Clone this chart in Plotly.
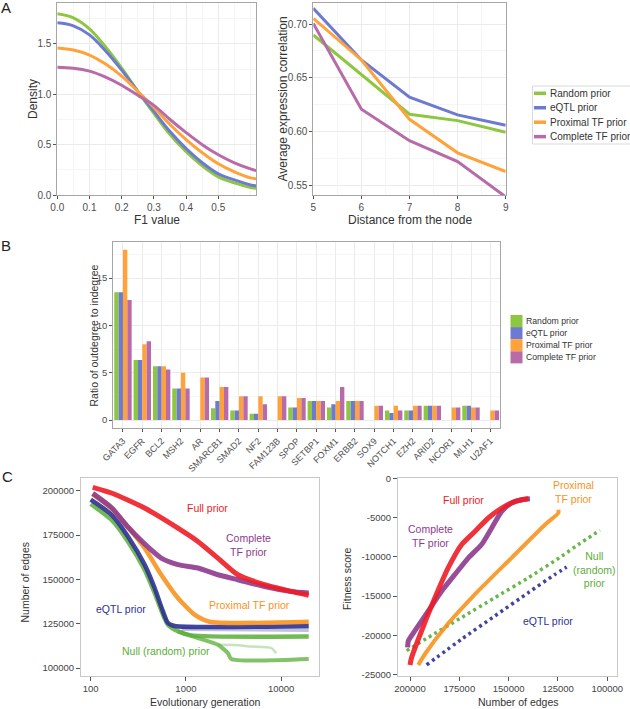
import plotly.graph_objects as go

W, H = 630, 709


def px(x):
    return x / W


def py(y):
    return 1 - y / H


FONT = "Arial, Liberation Sans, sans-serif"
TICKC = "#4d4d4d"

# ---------------- data ----------------
series_names = ["Random prior", "eQTL prior", "Proximal TF prior", "Complete TF prior"]
series_colors = ["#8DC63F", "#6C7BD1", "#FFA23A", "#B76BA8"]

# Panel A (left): density of F1 values
f1_values = [0.00, 0.05, 0.10, 0.15, 0.20, 0.25, 0.30, 0.35, 0.40, 0.45, 0.50, 0.55, 0.60, 0.62]
density_random = [1.80, 1.76, 1.65, 1.47, 1.26, 1.03, 0.81, 0.60, 0.43, 0.29, 0.18, 0.12, 0.075, 0.065]
density_eqtl = [1.71, 1.68, 1.59, 1.43, 1.24, 1.03, 0.83, 0.63, 0.46, 0.32, 0.21, 0.15, 0.10, 0.09]
density_proximal = [1.46, 1.44, 1.39, 1.30, 1.18, 1.03, 0.87, 0.70, 0.55, 0.42, 0.31, 0.23, 0.17, 0.16]
density_complete = [1.27, 1.26, 1.23, 1.17, 1.09, 0.99, 0.89, 0.75, 0.62, 0.50, 0.40, 0.32, 0.26, 0.24]

# Panel A (right): average expression correlation vs distance
distance = [5, 6, 7, 8, 9]
corr_random = [0.6898, 0.6525, 0.6159, 0.6100, 0.5992]
corr_eqtl = [0.7146, 0.6665, 0.6318, 0.6153, 0.6057]
corr_proximal = [0.7053, 0.6665, 0.6112, 0.5800, 0.5625]
corr_complete = [0.7006, 0.6206, 0.5913, 0.5718, 0.5390]

# Panel B: ratio of outdegree to indegree
genes = ["GATA3", "EGFR", "BCL2", "MSH2", "AR", "SMARCB1", "SMAD2", "NF2", "FAM123B", "SPOP",
         "SETBP1", "FOXM1", "ERBB2", "SOX9", "NOTCH1", "EZH2", "ARID2", "NCOR1", "MLH1", "U2AF1"]
ratio_random = [13.5, 6.33, 5.67, 3.33, 0, 1.25, 1, 0.67, 0, 1.33, 2, 1.33, 2, 0, 1, 1, 1.5, 0, 1.5, 0]
ratio_eqtl = [13.5, 6.33, 5.67, 3.33, 0, 2, 1, 0.67, 0, 1.33, 2, 1.67, 2, 0, 0.75, 1, 1.5, 0, 1.5, 0]
ratio_proximal = [18, 8, 5.67, 5, 4.5, 3.5, 2.5, 2.5, 2.5, 2.33, 2, 2, 2, 1.5, 1.5, 1.5, 1.5, 1.33, 1.33, 1]
ratio_complete = [12.67, 8.33, 5.33, 3.33, 4.5, 3.5, 2.5, 1.67, 2.5, 2.33, 2, 3.5, 2, 1.5, 1, 1.5, 1.5, 1.33, 1.33, 1]

# Panel C colours / names
c_names = ["Full prior", "Complete TF prior", "Proximal TF prior", "eQTL prior", "Null (random) prior"]
c_colors = ["#EE1C25", "#8E3A8E", "#F7931E", "#2E3192", "#5BAE38"]

# Panel C (left): number of edges vs evolutionary generation
gen_full = [105, 165, 368, 824, 1336, 2167, 3510, 6680, 12740, 19500]
edges_full = [201900, 198700, 190200, 178900, 171400, 162000, 152600, 147000, 143200, 141000]
gen_complete = [105, 165, 246, 368, 551, 824, 1336, 2167, 3510, 6680, 12740, 19500]
edges_complete = [198500, 190500, 179500, 170000, 162000, 158300, 156400, 152600, 149800, 146000, 143200, 142300]
gen_proximal = [105, 165, 246, 368, 551, 824, 1232, 1771, 19500]
edges_proximal = [198000, 190000, 179500, 167700, 152600, 139500, 130100, 126100, 126100]
gen_eqtl = [100, 165, 246, 368, 469, 574, 648, 760, 19500]
edges_eqtl = [194900, 186500, 174200, 158300, 145100, 131900, 125400, 123700, 123700]
gen_eqtl_alt = [900, 19500]
edges_eqtl_alt = [122000, 121400]
gen_null = [100, 165, 246, 368, 469, 574, 648, 824, 1137, 19500]
edges_null = [192500, 183600, 171400, 155400, 142300, 130100, 124400, 120700, 118400, 117700]
gen_null_low = [824, 1336, 2167, 2762, 2992, 19500]
edges_null_low = [120700, 116900, 113100, 108400, 105100, 105100]
gen_null_faint = [2167, 3240, 4840, 7850, 8870]
edges_null_faint = [113100, 113000, 112100, 111300, 108400]

# Panel C (right): fitness score vs number of edges
fit_edges_full = [200000, 199150, 194100, 187300, 180600, 173800, 167000, 160300, 153500, 146800, 140000]
fit_full = [-23760, -22790, -19410, -15190, -11390, -8440, -6750, -5060, -3800, -2950, -2620]
fit_edges_complete = [201200, 200800, 197500, 190700, 183900, 177200, 170400, 163700, 158600, 153500, 148500, 143400, 139200]
fit_complete = [-21520, -20680, -19410, -16880, -14350, -12240, -10130, -8440, -6330, -4220, -3170, -2740, -2620]
fit_edges_proximal = [195800, 192400, 182300, 165400, 148500, 131600, 124800, 124800]
fit_proximal = [-23760, -22370, -18990, -14350, -10130, -5910, -4430, -4010]
fit_edges_null = [201700, 190700, 173800, 156900, 140000, 123100, 114700, 103700]
fit_null = [-21940, -20260, -17720, -15190, -12660, -9920, -8440, -6630]
fit_edges_eqtl = [191600, 173800, 156900, 140000, 126500, 120600]
fit_eqtl = [-23760, -20470, -17510, -14560, -12240, -11310]

# tick labels
c_gen_ticks = [100, 1000, 10000]
c_gen_ticktext = ["100", "1000", "10000"]
c_edge_ticks = [100000, 125000, 150000, 175000, 200000]
c_edge_ticktext = ["100000", "125000", "150000", "175000", "200000"]
c_fit_ticks = [0, -5000, -10000, -15000, -20000, -25000]
c_fit_ticktext = ["0", "-5000", "-10000", "-15000", "-20000", "-25000"]

# ---------------- figure ----------------
fig = go.Figure()

dens = [density_random, density_eqtl, density_proximal, density_complete]
corr = [corr_random, corr_eqtl, corr_proximal, corr_complete]
ratios = [ratio_random, ratio_eqtl, ratio_proximal, ratio_complete]

for name, col, d in zip(series_names, series_colors, dens):
    fig.add_trace(go.Scatter(x=f1_values, y=d, mode="lines", name=name, showlegend=False,
                             line=dict(color=col, width=3, shape="spline", smoothing=1.0),
                             xaxis="x", yaxis="y"))
for name, col, c in zip(series_names, series_colors, corr):
    fig.add_trace(go.Scatter(x=distance, y=c, mode="lines", name=name, showlegend=False,
                             line=dict(color=col, width=3), xaxis="x2", yaxis="y2"))
for name, col, r in zip(series_names, series_colors, ratios):
    fig.add_trace(go.Bar(x=genes, y=r, name=name, showlegend=False, marker=dict(color=col, line=dict(width=0)),
                         xaxis="x3", yaxis="y3"))

# Panel C left
c_left = [
    (gen_null_faint, edges_null_faint, c_colors[4], 2.5, 0.35),
    (gen_eqtl_alt, edges_eqtl_alt, c_colors[3], 4, 0.3),
    (gen_null_low, edges_null_low, c_colors[4], 4, 0.75),
    (gen_null, edges_null, c_colors[4], 4.5, 0.85),
    (gen_eqtl, edges_eqtl, c_colors[3], 4.5, 0.9),
    (gen_proximal, edges_proximal, c_colors[2], 4.5, 0.9),
    (gen_complete, edges_complete, c_colors[1], 5, 0.9),
    (gen_full, edges_full, c_colors[0], 5, 0.9),
]
for gx, gy, col, w, op in c_left:
    fig.add_trace(go.Scatter(x=gx, y=gy, mode="lines", showlegend=False, opacity=op,
                             line=dict(color=col, width=w, shape="spline", smoothing=0.6),
                             xaxis="x4", yaxis="y4"))

# Panel C right
c_right = [
    (fit_edges_eqtl, fit_eqtl, c_colors[3], 3.5, "3px,3.5px"),
    (fit_edges_null, fit_null, c_colors[4], 3.5, "3px,3.5px"),
    (fit_edges_proximal, fit_proximal, c_colors[2], 4, "solid"),
    (fit_edges_complete, fit_complete, c_colors[1], 5, "solid"),
    (fit_edges_full, fit_full, c_colors[0], 5, "solid"),
]
for gx, gy, col, w, dash in c_right:
    fig.add_trace(go.Scatter(x=gx, y=gy, mode="lines", showlegend=False, opacity=0.9,
                             line=dict(color=col, width=w, shape="spline", smoothing=0.6, dash=dash),
                             xaxis="x5", yaxis="y5"))

# ---------------- axes ----------------
GRID = "#ebebeb"
MINOR = "#f5f5f5"
BORDER = "#a6a6a6"


def ax_common(**kw):
    d = dict(showline=True, mirror=True, linecolor=BORDER, linewidth=1, automargin=False,
             ticks="outside", ticklen=3, tickcolor="#555", tickwidth=1,
             tickfont=dict(size=10, color=TICKC, family=FONT), zeroline=False,
             showgrid=True, gridcolor=GRID, gridwidth=1, fixedrange=True)
    d.update(kw)
    return d


A_Y = [py(195), py(3.3)]
CF = dict(size=9.5, color="#444", family=FONT)
layout_axes = dict(
    xaxis=ax_common(domain=[px(57.3), px(256)], range=[0, 0.617], tickvals=[0, 0.1, 0.2, 0.3, 0.4, 0.5],
                    tickformat=".1f", anchor="y",
                    minor=dict(dtick=0.05, tick0=0, showgrid=True, gridcolor=MINOR, ticks="")),
    yaxis=ax_common(domain=A_Y, range=[0, 1.904], tickvals=[0, 0.5, 1.0, 1.5], tickformat=".1f",
                    anchor="x",
                    minor=dict(dtick=0.25, tick0=0, showgrid=True, gridcolor=MINOR, ticks="")),
    xaxis2=ax_common(domain=[px(313.3), px(505.7)], range=[5, 9], dtick=1, anchor="y2",
                     minor=dict(dtick=0.5, tick0=5, showgrid=True, gridcolor=MINOR, ticks="")),
    yaxis2=ax_common(domain=A_Y, range=[0.5407, 0.7193], tickvals=[0.55, 0.60, 0.65, 0.70], tickformat=".2f",
                     anchor="x2",
                     minor=dict(dtick=0.025, tick0=0.55, showgrid=True, gridcolor=MINOR, ticks="")),
    xaxis3=ax_common(domain=[px(113.3), px(500)], anchor="y3", tickangle=-45,
                     tickfont=dict(size=9, color=TICKC, family=FONT)),
    yaxis3=ax_common(domain=[py(428.3), py(241.7)], range=[-0.875, 18.84], tickvals=[0, 5, 10, 15],
                     anchor="x3", tickfont=dict(size=9.5, color=TICKC, family=FONT),
                     minor=dict(dtick=2.5, tick0=0, showgrid=True, gridcolor=MINOR, ticks="")),
    xaxis4=ax_common(domain=[px(81), px(319)], type="log", range=[1.898, 4.398], tickvals=c_gen_ticks,
                     ticktext=c_gen_ticktext, anchor="y4", showgrid=False, linecolor="#c8c8c8", ticklen=4,
                     tickfont=CF),
    yaxis4=ax_common(domain=[py(676), py(478)], range=[95490, 207160], tickvals=c_edge_ticks,
                     ticktext=c_edge_ticktext, anchor="x4", showgrid=False, linecolor="#c8c8c8", ticklen=4,
                     tickfont=CF),
    xaxis5=ax_common(domain=[px(398), px(617)], range=[206080, 95080], tickvals=c_edge_ticks,
                     ticktext=c_edge_ticktext, anchor="y5", showgrid=False, linecolor="#c8c8c8", ticklen=4,
                     tickfont=CF),
    yaxis5=ax_common(domain=[py(676), py(478)], range=[-25170, 30], tickvals=c_fit_ticks,
                     ticktext=c_fit_ticktext, anchor="x5", showgrid=False, linecolor="#c8c8c8", ticklen=4,
                     tickfont=CF),
)

shapes = []
annotations = []

# axis titles
axis_titles = [
    ("F1 value", 157, 220, 0, 12),
    ("Density", 33, 99, -90, 12),
    ("Distance from the node", 409.5, 220, 0, 12),
    ("Average expression correlation", 282.5, 99, -90, 12),
    ("Ratio of outdegree to indegree", 93.5, 336, -90, 10.5),
    ("Evolutionary generation", 205, 702, 0, 10.5),
    ("Number of edges", 24.5, 582, -90, 10.5),
    ("Number of edges", 518, 702, 0, 10.5),
    ("Fitness score", 347, 579, -90, 10.5),
]
for txt, tx, ty, ang, fs in axis_titles:
    annotations.append(dict(text=txt, xref="paper", yref="paper", x=px(tx), y=py(ty), xanchor="center",
                            yanchor="middle", showarrow=False, textangle=ang,
                            font=dict(size=fs, color="#333", family=FONT)))

# legend for panel A (built from the series lists)
shapes.append(dict(type="rect", xref="paper", yref="paper", x0=px(532.5), x1=px(640), y0=py(144), y1=py(86),
                   line=dict(color="#d9d9d9", width=1), fillcolor="white", layer="above"))
for i, (name, col) in enumerate(zip(series_names, series_colors)):
    yc = 93.3 + i * 14.45
    shapes.append(dict(type="line", xref="paper", yref="paper", x0=px(534), x1=px(546), y0=py(yc), y1=py(yc),
                       line=dict(color=col, width=3.5), layer="above"))
    annotations.append(dict(text=name, xref="paper", yref="paper", x=px(548), y=py(yc), xanchor="left",
                            yanchor="middle", showarrow=False, font=dict(size=10, color="#333", family=FONT)))

# legend for panel B
for i, (name, col) in enumerate(zip(series_names, series_colors)):
    y0 = 315 + i * 12.1
    shapes.append(dict(type="rect", xref="paper", yref="paper", x0=px(510.5), x1=px(522.5), y0=py(y0 + 12.1),
                       y1=py(y0), line=dict(width=0), fillcolor=col, layer="above"))
    annotations.append(dict(text=name, xref="paper", yref="paper", x=px(524), y=py(y0 + 6.05), xanchor="left",
                            yanchor="middle", showarrow=False, font=dict(size=8.7, color="#333", family=FONT)))

# panel letters
for letter, (lx, ly) in zip(["A", "B", "C"], [(6, 8), (6, 245), (7, 477)]):
    annotations.append(dict(text=letter, xref="paper", yref="paper", x=px(lx), y=py(ly), xanchor="center",
                            yanchor="middle", showarrow=False, font=dict(size=15, color="#222", family=FONT)))

# direct labels in panel C
LBL = 10.5
c_labels = [
    ("Full prior", 207, 508, c_colors[0]),
    ("Complete<br>TF prior", 248, 545, c_colors[1]),
    ("Proximal TF prior", 249, 605, c_colors[2]),
    ("eQTL prior", 121, 609, c_colors[3]),
    ("Null (random) prior", 166, 651, c_colors[4]),
    ("Full prior", 463, 500, c_colors[0]),
    ("Proximal<br>TF prior", 573, 492, c_colors[2]),
    ("Complete<br>TF prior", 430, 536, c_colors[1]),
    ("Null<br>(random)<br>prior", 594, 569, c_colors[4]),
    ("eQTL prior", 548, 621, c_colors[3]),
]
for txt, lx, ly, col in c_labels:
    annotations.append(dict(text=txt, xref="paper", yref="paper", x=px(lx), y=py(ly), xanchor="center",
                            yanchor="middle", showarrow=False, align="center",
                            font=dict(size=LBL, color=col, family=FONT)))

fig.update_layout(
    width=W, height=H,
    margin=dict(l=0, r=0, t=0, b=0),
    paper_bgcolor="white", plot_bgcolor="white",
    font=dict(family=FONT, size=10, color="#333"),
    barmode="group", bargap=0.1, bargroupgap=0,
    showlegend=False, hovermode=False,
    shapes=shapes, annotations=annotations,
    **layout_axes,
)

fig.write_html("out.html", config={"displayModeBar": False, "staticPlot": True},
               post_script="document.body.style.margin='0';document.body.style.padding='0';"
                           "document.body.style.overflow='hidden';")
